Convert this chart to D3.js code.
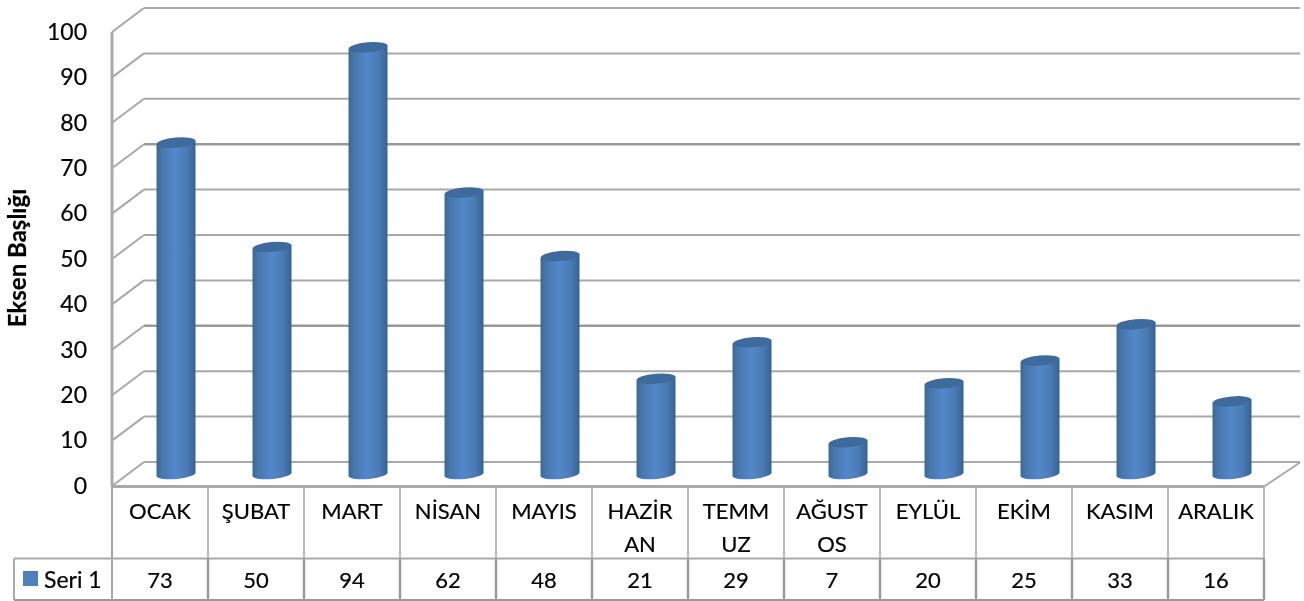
<!DOCTYPE html>
<html>
<head>
<meta charset="utf-8">
<script src="https://cdn.jsdelivr.net/npm/d3@7"></script>
<style>
html, body { margin: 0; padding: 0; background: #fff; overflow: hidden; }
svg { display: block; filter: blur(0.45px); }
text { font-family: Lato, "Open Sans", sans-serif; fill: #000; stroke: #000; stroke-width: 0.2px; }
</style>
</head>
<body>
<div id="container"></div>
<script>
var width = 1304;
var height = 601;

var categories = ['OCAK', 'ŞUBAT', 'MART', 'NİSAN', 'MAYIS', 'HAZİRAN', 'TEMMUZ', 'AĞUSTOS', 'EYLÜL', 'EKİM', 'KASIM', 'ARALIK'];
var categoryLines = [['OCAK'], ['ŞUBAT'], ['MART'], ['NİSAN'], ['MAYIS'], ['HAZİR', 'AN'], ['TEMM', 'UZ'], ['AĞUST', 'OS'], ['EYLÜL'], ['EKİM'], ['KASIM'], ['ARALIK']];
var values = [73, 50, 94, 62, 48, 21, 29, 7, 20, 25, 33, 16];
var yTicks = [0, 10, 20, 30, 40, 50, 60, 70, 80, 90, 100];
var heavyTicks = [30, 70];
var seriesName = 'Seri 1';
var axisTitle = 'Eksen Başlığı';

var gridColor = '#a9a9a9';
var depthX = 32, depthY = -24;
var left = 112, right = 1264;
var row1 = 486.5, row2 = 558.5, row3 = 600, legendLeft = 14;

var svg = d3.select('#container').append('svg').attr('width', width).attr('height', height);

var xScale = d3.scaleBand().domain(categories).range([left, right]);
var yScale = d3.scaleLinear().domain([0, 100]).range([486, 32]);

// cylinder shading
var grad = svg.append('defs').append('linearGradient').attr('id', 'cyl');
grad.append('stop').attr('offset', '0%').attr('stop-color', '#3d6899');
grad.append('stop').attr('offset', '14%').attr('stop-color', '#4676ae');
grad.append('stop').attr('offset', '48%').attr('stop-color', '#5588c9');
grad.append('stop').attr('offset', '78%').attr('stop-color', '#4a7ab4');
grad.append('stop').attr('offset', '100%').attr('stop-color', '#3a628f');

// side wall diagonals, then back wall lines
var grid = svg.append('g');
yTicks.forEach(function(t) {
    var y = yScale(t);
    var heavy = heavyTicks.indexOf(t) >= 0;
    grid.append('line')
        .attr('x1', left).attr('y1', y).attr('x2', left + depthX).attr('y2', y + depthY)
        .attr('stroke', gridColor).attr('stroke-width', 2);
    grid.append('line')
        .attr('x1', left + depthX).attr('y1', y + depthY).attr('x2', right + 36).attr('y2', y + depthY)
        .attr('stroke', heavy ? '#999' : gridColor)
        .attr('stroke-width', heavy ? 2.6 : 2);
});
// floor right edge
grid.append('line')
    .attr('x1', right).attr('y1', row1).attr('x2', right + 36).attr('y2', row1 + depthY)
    .attr('stroke', gridColor).attr('stroke-width', 2);

svg.append('line')
    .attr('x1', left).attr('x2', left)
    .attr('y1', yScale(100)).attr('y2', row1)
    .attr('stroke', gridColor).attr('stroke-width', 3);

// y labels
var yAxis = d3.axisLeft(yScale).tickValues(yTicks).tickSize(0).tickPadding(0);
var yG = svg.append('g').attr('transform', 'translate(87,0)').call(yAxis);
yG.select('.domain').remove();
yG.selectAll('text').attr('font-size', 23).style('font-family', 'Lato, sans-serif').attr('dy', '0.32em').attr('fill', '#000');

svg.append('text')
    .attr('transform', 'translate(26,258) rotate(-90)')
    .attr('text-anchor', 'middle')
    .attr('font-size', 24)
    .attr('font-weight', 'bold')
    .text(axisTitle);

// cylinders, slightly tilted by the 3d view
var rx = 19.5, ry = 5, tilt = -5, lift = 2;
var bars = svg.append('g').selectAll('g').data(values).enter().append('g');
bars.each(function(d, i) {
    var g = d3.select(this);
    var cx = xScale(categories[i]) + xScale.bandwidth() / 2 + 16;
    var yTop = yScale(d) - 12;
    var yBase = yScale(0) - 12;
    g.append('path')
        .attr('d', 'M' + (cx - rx) + ',' + (yTop + lift) +
            'L' + (cx - rx) + ',' + (yBase + lift) +
            'A' + rx + ',' + ry + ' ' + tilt + ' 0 0 ' + (cx + rx) + ',' + (yBase - lift) +
            'L' + (cx + rx) + ',' + (yTop - lift) + 'Z')
        .attr('fill', 'url(#cyl)');
    g.append('ellipse')
        .attr('cx', cx).attr('cy', yTop)
        .attr('rx', rx).attr('ry', ry)
        .attr('transform', 'rotate(' + tilt + ' ' + cx + ' ' + yTop + ')')
        .attr('fill', '#3f6a9e');
});

// data table
var table = svg.append('g');
var tableLine = function(x1, y1, x2, y2, color, w) {
    table.append('line')
        .attr('x1', x1).attr('y1', y1).attr('x2', x2).attr('y2', y2)
        .attr('stroke', color).attr('stroke-width', w);
};
tableLine(left, row1, right, row1, gridColor, 3);
tableLine(legendLeft, row2, right, row2, gridColor, 2);
tableLine(legendLeft, row3, right, row3, '#999', 2);
tableLine(legendLeft, row2, legendLeft, row3, gridColor, 2);
tableLine(left, row1, left, row3, gridColor, 2);
categories.forEach(function(c) {
    var xr = xScale(c) + xScale.bandwidth();
    tableLine(xr, row1, xr, row2, gridColor, 1.6);
    tableLine(xr, row2, xr, row3, '#999', 2.4);
});

categories.forEach(function(c, i) {
    var cx = xScale(c) + xScale.bandwidth() / 2;
    categoryLines[i].forEach(function(line, k) {
        table.append('text')
            .attr('x', cx).attr('y', 518.5 + k * 33)
            .attr('text-anchor', 'middle')
            .attr('font-size', 22)
            .text(line);
    });
    table.append('text')
        .attr('x', cx).attr('y', 587.5)
        .attr('text-anchor', 'middle')
        .attr('font-size', 22)
        .text(values[i]);
});

// legend key
table.append('rect').attr('x', 23).attr('y', 571).attr('width', 15).attr('height', 15).attr('fill', '#4f81bd');
table.append('text').attr('x', 44).attr('y', 587.5).attr('font-size', 23).text(seriesName);
</script>
</body>
</html>
